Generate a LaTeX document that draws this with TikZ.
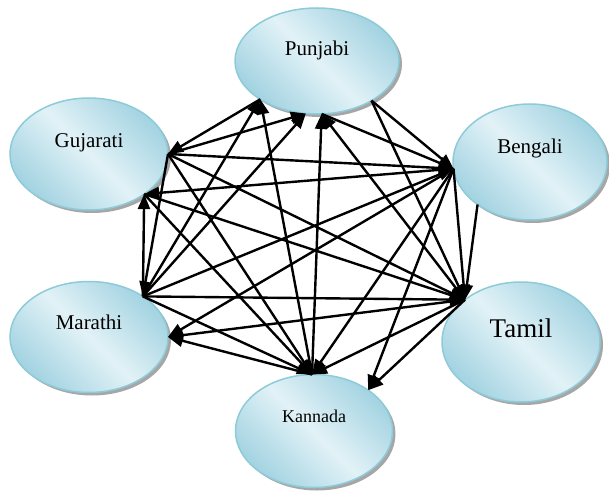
\documentclass[tikz,border=0pt]{standalone}
\usepackage{fontspec}
\setmainfont{Liberation Serif}
\usetikzlibrary{shapes.geometric,shadows,arrows.meta}
\definecolor{lanlight}{RGB}{226,242,247}
\definecolor{landark}{RGB}{163,211,225}
\definecolor{lanrim}{RGB}{141,203,217}

\begin{document}
\begin{tikzpicture}[x=0.5pt, y=-0.5pt,
lang/.style={ellipse, draw=lanrim, line width=0.75pt, top color=landark, bottom color=landark, middle color=lanlight, shading angle=-45, drop shadow={shadow xshift=1.5pt, shadow yshift=-1.5pt, fill=black, opacity=0.35}, inner sep=0pt, outer sep=0pt, text height=0pt, text depth=6pt, font=\fontsize{10.5}{12}\selectfont},
link/.style={-{Triangle[length=7.5pt,width=6pt]}, line width=1.2pt}
]
\useasboundingbox (0,0) rectangle (609,497);
%Nodes
\node[lang, minimum width=82pt, minimum height=53pt, text depth=5pt]     (pun)  at (317,61)   {Punjabi};
\node[lang, minimum width=79pt, minimum height=56pt]                     (guj)  at (89,154)   {Gujarati};
\node[lang, minimum width=77pt, minimum height=58pt, text depth=8pt]     (ben)  at (530,162)  {Bengali};
\node[lang, minimum width=79pt, minimum height=55.5pt, text depth=8pt]   (mar)  at (89,337)   {Marathi};
\node[lang, minimum width=79pt, minimum height=60pt, text depth=5pt, font=\fontsize{13.5}{15}\selectfont]  (tam)  at (521,342)  {Tamil};
\node[lang, minimum width=78.5pt, minimum height=56.5pt, text depth=9pt, font=\fontsize{9}{11}\selectfont] (kan)  at (314,431)  {Kannada};
%Lines
\draw[link] (pun.214) -- (guj.0);
\draw[link] (guj.0) -- (pun.258);
\draw[link] (guj.0) -- (ben.185);
\draw[link] (guj.0) -- (tam.143);
\draw[link] (guj.0) -- (kan.92);
\draw[link] (guj.0) -- (mar.37);
\draw[link] (ben.185) -- (guj.324);
\draw[link] (mar.37) -- (guj.324);
\draw[link] (guj.324) -- (tam.143);
\draw[link] (guj.324) -- (kan.92);
\draw[link] (mar.37) -- (pun.214);
\draw[link] (mar.37) -- (pun.258);
\draw[link] (mar.37) -- (ben.185);
\draw[link] (mar.37) -- (tam.143);
\draw[link] (mar.37) -- (kan.92);
\draw[link] (ben.185) -- (mar.0);
\draw[link] (tam.143) -- (mar.0);
\draw[link] (kan.92) -- (mar.0);
\draw[link] (kan.92) -- (pun.214);
\draw[link] (kan.92) -- (pun.275);
\draw[link] (ben.185) -- (kan.92);
\draw[link] (tam.143) -- (kan.92);
\draw[link] (ben.185) -- (kan.37);
\draw[link] (tam.143) -- (kan.37);
\draw[link] (pun.324) -- (ben.185);
\draw[link] (pun.324) -- (tam.143);
\draw[link] (pun.275) -- (ben.185);
\draw[link] (tam.143) -- (pun.275);
\draw[link] (ben.219) -- (tam.143);
\draw[link] (ben.185) -- (tam.143);
\end{tikzpicture}
\end{document}
